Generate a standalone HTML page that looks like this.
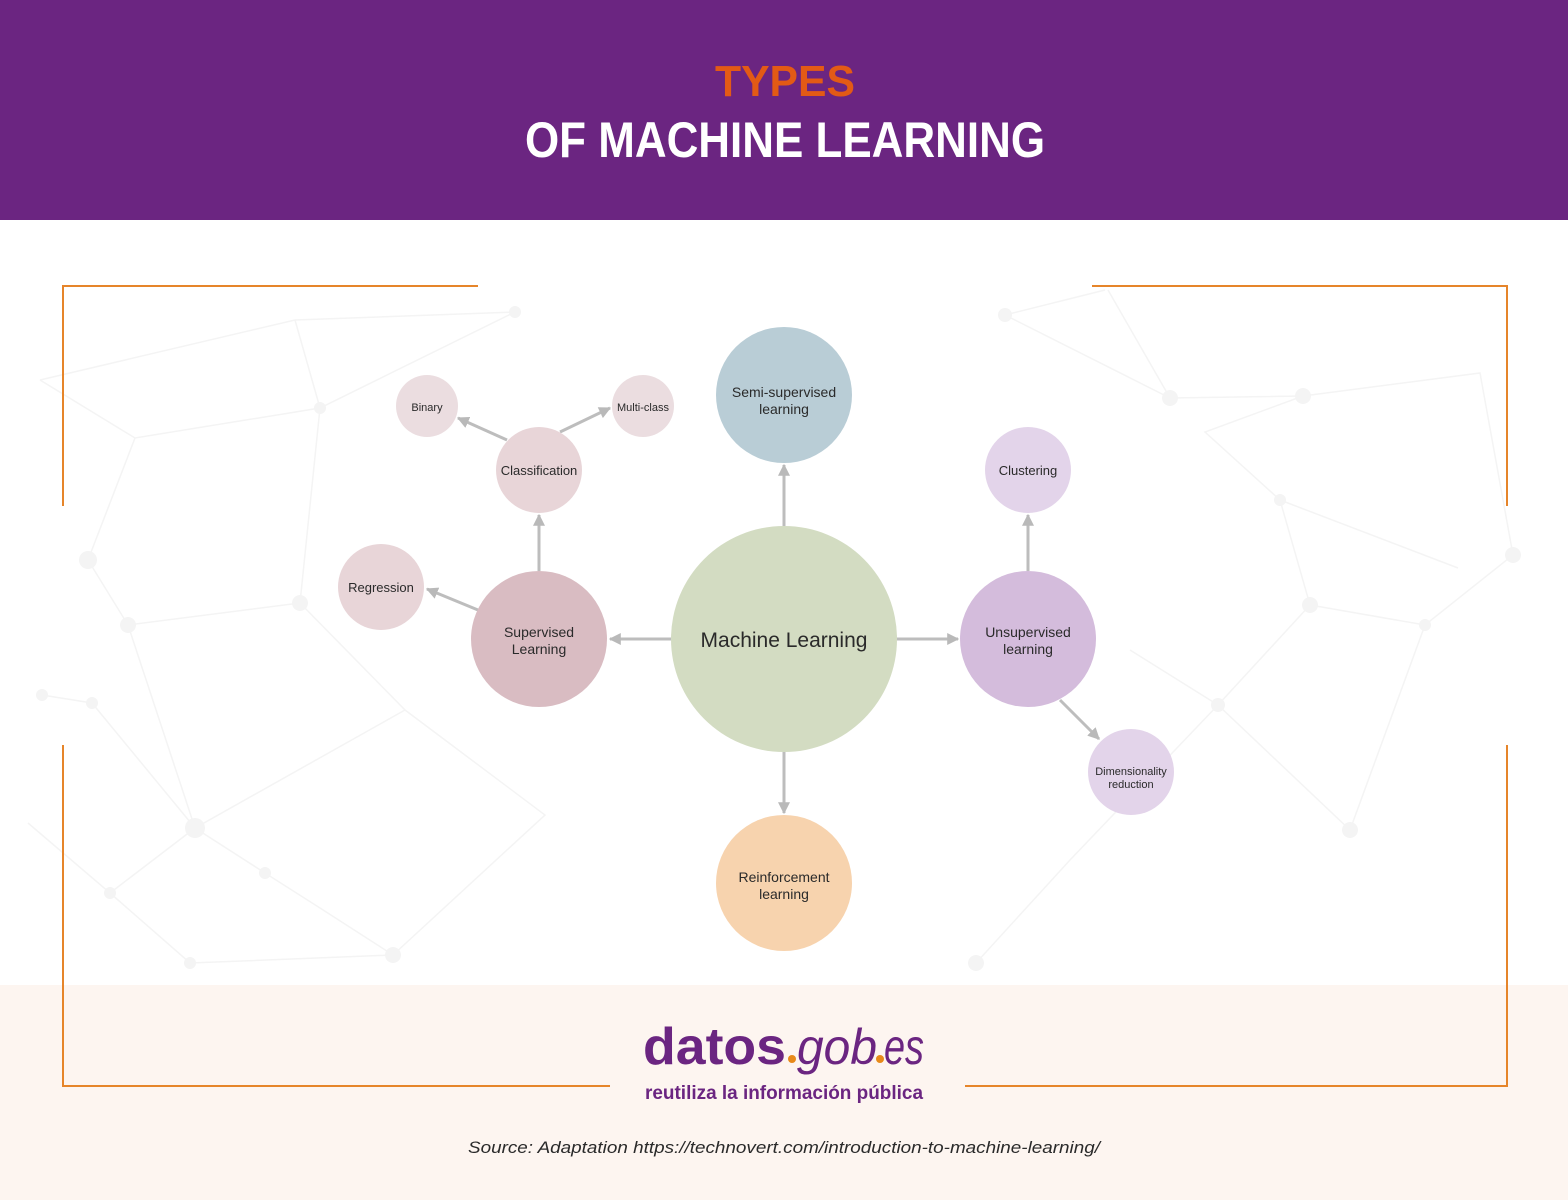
<!DOCTYPE html>
<html><head><meta charset="utf-8"><style>
html,body{margin:0;padding:0;background:#fff}
svg{display:block}
text{font-family:"Liberation Sans","DejaVu Sans",sans-serif}
</style></head><body>
<svg width="1568" height="1200" viewBox="0 0 1568 1200" xmlns="http://www.w3.org/2000/svg">
<defs>
<marker id="ah" viewBox="0 0 10 10" refX="9" refY="5" markerWidth="4" markerHeight="4" orient="auto"><path d="M0,0 L10,5 L0,10 z" fill="#b9b9b9"/></marker>
</defs>
<rect width="1568" height="1200" fill="#fff"/>
<rect y="985" width="1568" height="215" fill="#fdf5f0"/>
<!-- faint network -->
<g stroke="#f4f4f4" stroke-width="1.5" fill="none">
<path d="M40,380 L295,320 L515,312 L320,408 L135,438 L40,380 M295,320 L320,408 L300,603 L128,625 L88,560 L135,438 M300,603 L405,710 L195,828 L128,625 M195,828 L110,893 L190,963 L393,955 L320,908 L265,873 L195,828 M405,710 L545,815 L393,955 M28,823 L110,893 M42,695 L92,703 L195,828"/>
<path d="M1005,315 L1170,398 L1303,396 L1205,432 L1280,500 L1310,605 L1425,625 L1513,555 L1480,373 L1303,396 M1310,605 L1218,705 L1350,830 L1425,625 M1218,705 L1130,650 M1108,290 L1170,398 M1280,500 L1458,568 M976,963 L1070,860 L1218,705 M1105,290 L1005,315"/>
</g>
<g fill="#f4f4f4">
<circle cx="515" cy="312" r="6"/><circle cx="320" cy="408" r="6"/><circle cx="300" cy="603" r="8"/><circle cx="128" cy="625" r="8"/><circle cx="88" cy="560" r="9"/><circle cx="195" cy="828" r="10"/><circle cx="393" cy="955" r="8"/><circle cx="190" cy="963" r="6"/><circle cx="110" cy="893" r="6"/><circle cx="265" cy="873" r="6"/><circle cx="92" cy="703" r="6"/><circle cx="42" cy="695" r="6"/>
<circle cx="1303" cy="396" r="8"/><circle cx="1170" cy="398" r="8"/><circle cx="1310" cy="605" r="8"/><circle cx="1513" cy="555" r="8"/><circle cx="1425" cy="625" r="6"/><circle cx="1350" cy="830" r="8"/><circle cx="976" cy="963" r="8"/><circle cx="1218" cy="705" r="7"/><circle cx="1280" cy="500" r="6"/><circle cx="1005" cy="315" r="7"/>
</g>
<!-- header -->
<rect width="1568" height="220" fill="#6b2581"/>
<text x="785" y="96" text-anchor="middle" font-size="44" font-weight="bold" fill="#e35a15" textLength="140" lengthAdjust="spacingAndGlyphs">TYPES</text>
<text x="785" y="157" text-anchor="middle" font-size="50" font-weight="bold" fill="#fff" textLength="520" lengthAdjust="spacingAndGlyphs">OF MACHINE LEARNING</text>
<!-- brackets -->
<g stroke="#e6852a" stroke-width="2" fill="none">
<path d="M478,286 H63 V506"/>
<path d="M1092,286 H1507 V506"/>
<path d="M63,745 V1086 H610"/>
<path d="M1507,745 V1086 H965"/>
</g>
<!-- connectors -->
<g stroke="#bdbdbd" stroke-width="3" fill="none" marker-end="url(#ah)">
<line x1="671" y1="639" x2="610" y2="639"/>
<line x1="897" y1="639" x2="958" y2="639"/>
<line x1="784" y1="526" x2="784" y2="465"/>
<line x1="784" y1="752" x2="784" y2="813"/>
<line x1="539" y1="571" x2="539" y2="515"/>
<line x1="478" y1="610" x2="427" y2="589"/>
<line x1="507" y1="440" x2="458" y2="418"/>
<line x1="560" y1="432" x2="610" y2="408"/>
<line x1="1028" y1="571" x2="1028" y2="515"/>
<line x1="1060" y1="700" x2="1099" y2="739"/>
</g>
<!-- nodes -->
<circle cx="784" cy="639" r="113" fill="#d3dcc2"/>
<circle cx="539" cy="639" r="68" fill="#d9bcc2"/>
<circle cx="539" cy="470" r="43" fill="#e8d5d8"/>
<circle cx="427" cy="406" r="31" fill="#ebdde0"/>
<circle cx="643" cy="406" r="31" fill="#ebdde0"/>
<circle cx="381" cy="587" r="43" fill="#e8d5d8"/>
<circle cx="784" cy="395" r="68" fill="#b9cdd6"/>
<circle cx="1028" cy="639" r="68" fill="#d4bcdc"/>
<circle cx="1028" cy="470" r="43" fill="#e3d4ea"/>
<circle cx="1131" cy="772" r="43" fill="#e3d4ea"/>
<circle cx="784" cy="883" r="68" fill="#f7d3ae"/>
<g fill="#2a2a2a" text-anchor="middle">
<text x="784" y="647" font-size="21">Machine Learning</text>
<text x="539" y="637" font-size="14">Supervised</text>
<text x="539" y="654" font-size="14">Learning</text>
<text x="539" y="475" font-size="13">Classification</text>
<text x="427" y="411" font-size="11">Binary</text>
<text x="643" y="411" font-size="11">Multi-class</text>
<text x="381" y="592" font-size="13">Regression</text>
<text x="784" y="397" font-size="14">Semi-supervised</text>
<text x="784" y="414" font-size="14">learning</text>
<text x="1028" y="637" font-size="14">Unsupervised</text>
<text x="1028" y="654" font-size="14">learning</text>
<text x="1028" y="475" font-size="13">Clustering</text>
<text x="1131" y="775" font-size="11">Dimensionality</text>
<text x="1131" y="788" font-size="11">reduction</text>
<text x="784" y="882" font-size="14">Reinforcement</text>
<text x="784" y="899" font-size="14">learning</text>
</g>
<!-- logo -->
<text x="643" y="1064" font-size="52" font-weight="bold" fill="#6b2581" textLength="143" lengthAdjust="spacingAndGlyphs">datos</text>
<circle cx="792" cy="1059" r="4" fill="#e88a1a"/>
<text x="797" y="1064" font-family="Liberation Serif,serif" font-style="italic" font-size="50" fill="#6b2581" textLength="80" lengthAdjust="spacingAndGlyphs">gob</text>
<circle cx="880" cy="1059" r="4" fill="#e88a1a"/>
<text x="884" y="1064" font-family="Liberation Serif,serif" font-style="italic" font-size="50" fill="#6b2581" textLength="40" lengthAdjust="spacingAndGlyphs">es</text>
<text x="784" y="1099" text-anchor="middle" font-size="19" font-weight="bold" fill="#6b2581" textLength="278" lengthAdjust="spacingAndGlyphs">reutiliza la información pública</text>
<text x="784" y="1153" text-anchor="middle" font-size="17" font-style="italic" fill="#2a2a2a" textLength="632" lengthAdjust="spacingAndGlyphs">Source: Adaptation https://technovert.com/introduction-to-machine-learning/</text>
</svg>
</body></html>
